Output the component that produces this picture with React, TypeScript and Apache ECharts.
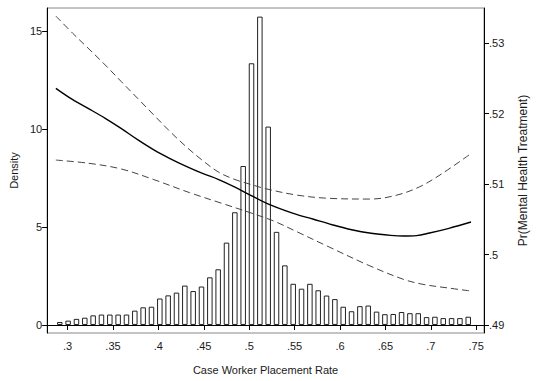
import React, { useEffect, useRef } from "react";
import * as echarts from "echarts";

// Histogram of case worker placement rate (density, left axis)
const binStart = 0.28684;
const binWidth = 0.00918;
const density = [
  0.15, 0.22, 0.31, 0.37, 0.49, 0.53, 0.53, 0.53, 0.53, 0.73,
  0.9, 0.93, 1.35, 1.51, 1.65, 2.01, 1.73, 1.96, 2.43, 2.84,
  4.2, 5.75, 8.11, 13.35, 15.73, 10.12, 4.75, 3.04, 2.1, 1.85,
  2.1, 1.77, 1.5, 1.32, 0.93, 0.7, 0.96, 0.99, 0.68, 0.55,
  0.56, 0.66, 0.6, 0.6, 0.4, 0.42, 0.35, 0.35, 0.35, 0.42,
];

// Predicted Pr(Mental Health Treatment) (right axis)
const xFit = [
  0.2871, 0.3057, 0.3236, 0.3415, 0.3593, 0.3771, 0.395, 0.4128, 0.4307, 0.4486,
  0.4664, 0.4843, 0.4985, 0.52, 0.5486, 0.57, 0.5914, 0.6129, 0.6343, 0.6557,
  0.67, 0.6843, 0.6986, 0.72, 0.7443,
];
const yFit = [
  0.52357, 0.52196, 0.52066, 0.51932, 0.51786, 0.5163, 0.51485, 0.51362, 0.51252, 0.51152,
  0.51064, 0.50957, 0.50861, 0.50723, 0.50584, 0.50504, 0.50423, 0.50352, 0.50302, 0.50272,
  0.50262, 0.50268, 0.50305, 0.50372, 0.50461,
];

const xUpper = [
  0.2871, 0.3057, 0.3236, 0.3415, 0.3593, 0.3771, 0.395, 0.4128, 0.4307, 0.4486,
  0.4664, 0.4843, 0.5022, 0.5164, 0.5521, 0.5882, 0.6343, 0.6629, 0.6879, 0.7129, 0.7436,
];
const yUpper = [
  0.53383, 0.53138, 0.52915, 0.52688, 0.52451, 0.52216, 0.51979, 0.51745, 0.51529, 0.51335,
  0.51168, 0.51064, 0.50993, 0.50939, 0.50844, 0.50797, 0.50787, 0.50844, 0.50962, 0.51152, 0.51426,
];

const xLower = [
  0.2871, 0.3236, 0.3593, 0.395, 0.4343, 0.47, 0.5022, 0.5271, 0.5521, 0.5882,
  0.6321, 0.67, 0.6914, 0.72, 0.7443,
];
const yLower = [
  0.5134, 0.51294, 0.51213, 0.51063, 0.50878, 0.50726, 0.50589, 0.50475, 0.50326, 0.50106,
  0.49844, 0.49648, 0.49577, 0.49524, 0.49482,
];

const xTicks = [0.3, 0.35, 0.4, 0.45, 0.5, 0.55, 0.6, 0.65, 0.7, 0.75];
const densityTicks = [0, 5, 10, 15];
const prTicks = [0.49, 0.5, 0.51, 0.52, 0.53];

const FONT = "Liberation Sans, Arial, sans-serif";
const TXT = "#1a1a1a";

const dec = (v: number) => String(+v.toFixed(3)).replace(/^0\./, ".");

export default function App() {
  const ref = useRef<HTMLDivElement>(null);
  useEffect(() => {
    if (!ref.current) return;
    const chart = echarts.init(ref.current, undefined, { renderer: "svg" });
    const zip = (xs: number[], ys: number[]) => xs.map((x, i) => [x, ys[i]]);
    const axisLine = { show: true, lineStyle: { color: "#000", width: 1 } };
    const tickStyle = { show: true, length: 5, lineStyle: { color: "#000", width: 1 } };
    const labelBase = { fontFamily: FONT, fontSize: 11, color: TXT };
    const lineCommon = {
      type: "line",
      yAxisIndex: 1,
      smooth: 0.35,
      showSymbol: false,
    };
    chart.setOption({
      animation: false,
      backgroundColor: "#fff",
      grid: {
        left: 47,
        right: 41,
        top: 8,
        bottom: 48,
        show: true,
        borderColor: "#888",
        borderWidth: 1,
        backgroundColor: "transparent",
      },
      xAxis: {
        type: "value",
        min: 0.2775,
        max: 0.7586,
        name: "Case Worker Placement Rate",
        nameLocation: "middle",
        nameGap: 31,
        nameTextStyle: { ...labelBase },
        axisLine,
        axisTick: { ...tickStyle, customValues: xTicks },
        axisLabel: { ...labelBase, margin: 7, customValues: xTicks, formatter: (v: number) => dec(v) },
        splitLine: { show: false },
      },
      yAxis: [
        {
          type: "value",
          position: "left",
          min: -0.41,
          max: 16.17,
          name: "Density",
          nameLocation: "middle",
          nameGap: 28,
          nameRotate: 90,
          nameTextStyle: { ...labelBase },
          axisLine,
          axisTick: { ...tickStyle, customValues: densityTicks },
          axisLabel: { ...labelBase, margin: 5, customValues: densityTicks, formatter: (v: number) => String(v) },
          splitLine: { show: false },
        },
        {
          type: "value",
          position: "right",
          min: 0.48887,
          max: 0.53497,
          name: "Pr(Mental Health Treatment)",
          nameLocation: "middle",
          nameGap: 33,
          nameRotate: 90,
          nameTextStyle: { ...labelBase, fontSize: 12 },
          axisLine,
          axisTick: { ...tickStyle, customValues: prTicks },
          axisLabel: { ...labelBase, margin: 5, customValues: prTicks, formatter: (v: number) => dec(v) },
          splitLine: { show: false },
        },
      ],
      series: [
        {
          type: "bar",
          yAxisIndex: 0,
          barWidth: 5.5,
          z: 2,
          itemStyle: { color: "#ffffff", borderColor: "#222", borderWidth: 1 },
          data: density.map((d, i) => [binStart + binWidth * (i + 0.5), d]),
        },
        {
          ...lineCommon,
          z: 4,
          lineStyle: { color: "#000", width: 1.4 },
          data: zip(xFit, yFit),
        },
        {
          ...lineCommon,
          z: 3,
          lineStyle: { color: "#444", width: 1, type: [7, 4] },
          data: zip(xUpper, yUpper),
        },
        {
          ...lineCommon,
          z: 3,
          lineStyle: { color: "#444", width: 1, type: [7, 4] },
          data: zip(xLower, yLower),
        },
      ],
    });
    return () => chart.dispose();
  }, []);
  return (
    <div
      ref={ref}
      style={{ width: 537, height: 381, position: "absolute", left: 0, top: 0 }}
    />
  );
}
